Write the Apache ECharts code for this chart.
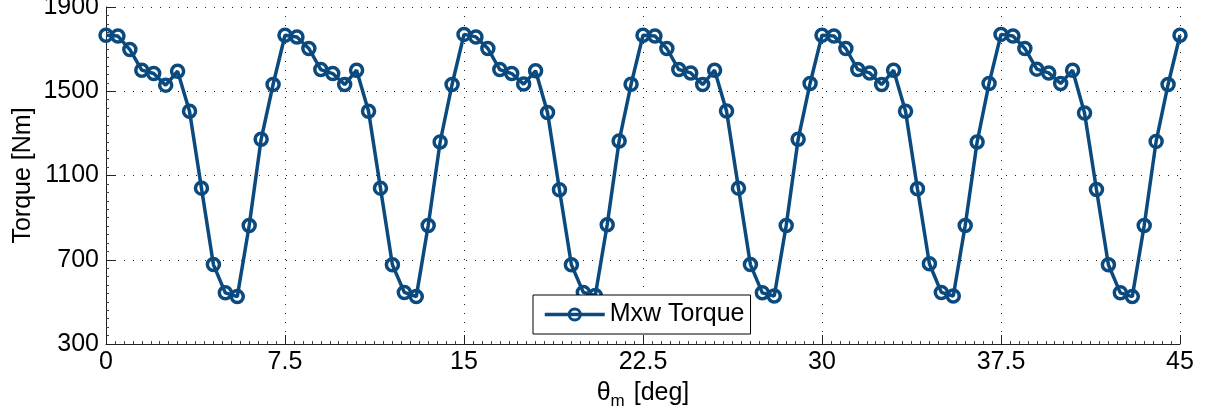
<!DOCTYPE html>
<html>
<head>
<meta charset="utf-8">
<title>Mxw Torque</title>
<script src="https://cdn.jsdelivr.net/npm/echarts@6/dist/echarts.min.js"></script>
<style>
  html, body { margin: 0; padding: 0; background: #fff; }
  #main { width: 1210px; height: 420px; }
</style>
</head>
<body>
<div id="main"></div>
<script>
// rotor angle step (deg) and torque samples
var angleStep = 0.5;
var torque = [
  1766, 1762, 1698, 1600, 1584, 1529, 1595, 1405, 1040, 677, 543, 525, 863, 1272, 1532,
  1766, 1758, 1703, 1603, 1584, 1532, 1600, 1405, 1040, 676, 545, 525, 863, 1259, 1532,
  1770, 1758, 1703, 1603, 1584, 1534, 1597, 1399, 1032, 676, 545, 530, 866, 1264, 1533,
  1766, 1762, 1703, 1603, 1587, 1532, 1600, 1406, 1040, 677, 543, 528, 863, 1272, 1537,
  1766, 1762, 1703, 1603, 1587, 1532, 1600, 1405, 1037, 681, 545, 528, 863, 1259, 1537,
  1770, 1762, 1703, 1605, 1587, 1537, 1600, 1397, 1034, 676, 543, 525, 863, 1262, 1532,
  1766
];
var xTicks = [0, 7.5, 15, 22.5, 30, 37.5, 45];
var yTicks = [300, 700, 1100, 1500, 1900];

var seriesData = [];
for (var i = 0; i < torque.length; i++) {
  seriesData.push([i * angleStep, torque[i]]);
}

var lineColor = '#0b4a7e';
var font = 'Liberation Sans, Arial, Helvetica, sans-serif';

var myChart = echarts.init(document.getElementById('main'));
var option = {
  animation: false,
  textStyle: { fontFamily: font },
  grid: { left: 106, right: 30, top: 7, bottom: 76, outerBoundsMode: 'none', containLabel: false },
  legend: {
    left: 533, top: 295,
    data: ['Mxw Torque'],
    backgroundColor: '#fff',
    borderColor: '#000',
    borderWidth: 1,
    borderRadius: 0,
    padding: [7, 6, 7, 10],
    itemWidth: 60,
    itemHeight: 14,
    itemGap: 6,
    lineStyle: { width: 3.5 },
    itemStyle: { borderWidth: 3 },
    textStyle: { fontFamily: font, fontSize: 25, color: '#000' }
  },
  xAxis: {
    type: 'value',
    min: xTicks[0],
    max: xTicks[xTicks.length - 1],
    interval: 7.5,
    name: '{a|θ}{b|m}{a| [deg]}',
    nameLocation: 'middle',
    nameGap: 33,
    nameMoveOverlap: false,
    nameTextStyle: {
      rich: {
        a: { fontFamily: font, fontSize: 25, color: '#000', lineHeight: 26 },
        b: { fontFamily: font, fontSize: 17, color: '#000', padding: [16, 2, 0, 0] }
      }
    },
    axisLine: { show: true, onZero: false, lineStyle: { color: '#222', width: 1 } },
    axisTick: { show: true, inside: true, length: 9, lineStyle: { color: '#222' } },
    minorTick: { show: true, splitNumber: 20, length: 3, lineStyle: { color: '#444' } },
    axisLabel: { fontSize: 25, color: '#000', margin: 6, fontFamily: font },
    splitLine: { show: true, lineStyle: { color: '#222', type: [1, 8], width: 1 } }
  },
  yAxis: {
    type: 'value',
    min: yTicks[0],
    max: yTicks[yTicks.length - 1],
    interval: 400,
    name: 'Torque [Nm]',
    nameLocation: 'middle',
    nameGap: 70,
    nameMoveOverlap: false,
    nameTextStyle: { fontFamily: font, fontSize: 25, color: '#000' },
    axisLine: { show: true, onZero: false, lineStyle: { color: '#222', width: 1 } },
    axisTick: { show: true, inside: true, length: 9, lineStyle: { color: '#222' } },
    minorTick: { show: true, splitNumber: 10, length: 3, lineStyle: { color: '#444' } },
    axisLabel: {
      fontSize: 25, color: '#000', margin: 7, fontFamily: font,
      formatter: function (v) { return String(v); }
    },
    splitLine: { show: true, lineStyle: { color: '#222', type: [1, 8], width: 1 } }
  },
  series: [
    {
      name: 'Mxw Torque',
      type: 'line',
      data: seriesData,
      symbol: 'circle',
      symbolSize: 12,
      showAllSymbol: true,
      lineStyle: { color: lineColor, width: 3.5 },
      itemStyle: { color: 'rgba(255,255,255,0)', borderColor: lineColor, borderWidth: 3.5 },
      emphasis: { disabled: true },
      z: 3
    }
  ]
};
myChart.setOption(option);
</script>
</body>
</html>
